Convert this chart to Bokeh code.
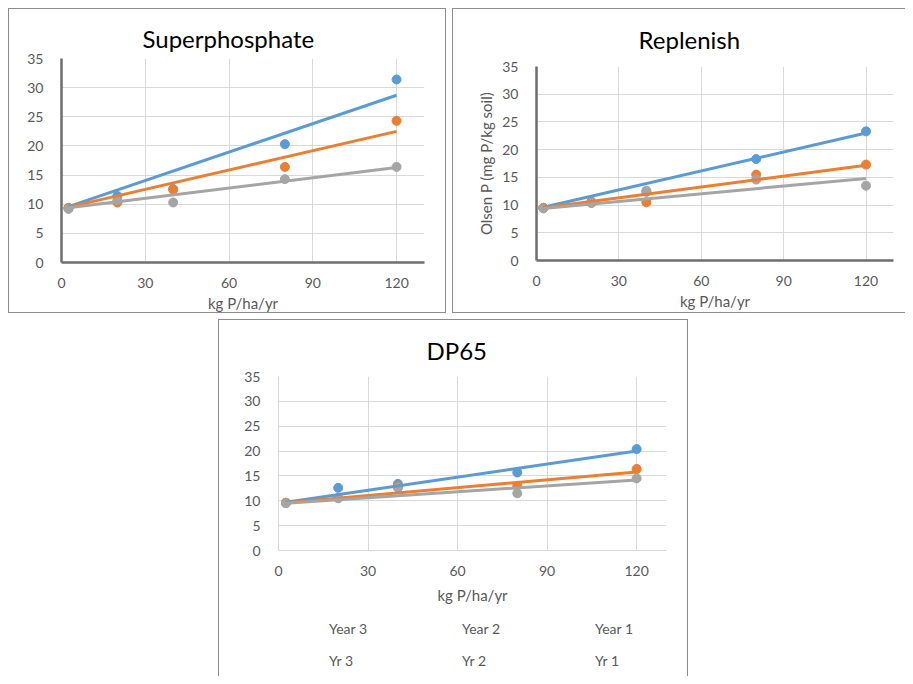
from bokeh.plotting import figure
from bokeh.models import FixedTicker, Legend, LegendItem, Range1d
from bokeh.embed import file_html
from bokeh.resources import INLINE

# ---------------- data ----------------
rate = [2.5, 20, 40, 80, 120]          # kg P/ha/yr
trend_x = [2.5, 120]
series_names = ["Year 3", "Year 2", "Year 1"]
trend_names = ["Yr 3", "Yr 2", "Yr 1"]
x_ticks = [0, 30, 60, 90, 120]
y_ticks = [0, 5, 10, 15, 20, 25, 30, 35]

super_year3 = [9.3, 11.4, 12.6, 20.3, 31.4]
super_year2 = [9.4, 10.3, 12.5, 16.4, 24.3]
super_year1 = [9.2, 10.7, 10.3, 14.3, 16.4]
super_trend3 = [9.6, 28.7]
super_trend2 = [9.5, 22.5]
super_trend1 = [9.4, 16.3]

rep_year3 = [9.5, 10.6, 12.4, 18.3, 23.3]
rep_year2 = [9.5, 10.4, 10.5, 15.5, 17.3]
rep_year1 = [9.4, 10.4, 12.6, 14.6, 13.5]
rep_trend3 = [9.6, 23.0]
rep_trend2 = [9.5, 17.2]
rep_trend1 = [9.4, 14.8]

dp_year3 = [9.6, 12.6, 13.4, 15.7, 20.4]
dp_year2 = [9.6, 10.6, 12.9, 13.0, 16.4]
dp_year1 = [9.5, 10.5, 12.6, 11.5, 14.5]
dp_trend3 = [9.7, 20.0]
dp_trend2 = [9.6, 15.8]
dp_trend1 = [9.5, 14.2]

# ---------------- style ----------------
COLORS = ["#5B9BD5", "#ED7D31", "#A5A5A5"]
FONT = "Lato"
TICK_COLOR = "#595959"
BORDER = "1px solid #8c8c8c"


def make_panel(title, years, trends, size, borders, title_standoff,
               title_offset, axis_color, axis_width, styles, ylabel=None,
               xlabel_standoff=3):
    left, right, top, bottom = borders
    p = figure(width=size[0], height=size[1],
               x_range=Range1d(0, 130), y_range=Range1d(0, 35),
               output_backend="svg", toolbar_location=None,
               min_border_left=left, min_border_right=right,
               min_border_top=top, min_border_bottom=bottom,
               styles=styles)
    p.outline_line_color = None
    p.background_fill_color = "white"
    p.border_fill_color = "white"

    p.title.text = title
    p.title.align = "left"
    p.title.offset = title_offset
    p.title.text_font = FONT
    p.title.text_font_size = "24px"
    p.title.text_font_style = "normal"
    p.title.text_color = "#000000"
    p.title.standoff = title_standoff

    p.xaxis.ticker = FixedTicker(ticks=x_ticks)
    p.yaxis.ticker = FixedTicker(ticks=y_ticks)
    p.xgrid.ticker = FixedTicker(ticks=x_ticks)
    p.ygrid.ticker = FixedTicker(ticks=y_ticks)
    for g in (p.xgrid, p.ygrid):
        g.grid_line_color = "#D9D9D9"
        g.grid_line_width = 1
    for ax in (p.xaxis, p.yaxis):
        ax.axis_line_color = axis_color
        ax.axis_line_width = axis_width
        ax.major_tick_line_color = None
        ax.minor_tick_line_color = None
        ax.major_tick_out = 0
        ax.major_tick_in = 0
        ax.major_label_text_font = FONT
        ax.major_label_text_font_size = "14px"
        ax.major_label_text_color = TICK_COLOR
        ax.axis_label_text_font = FONT
        ax.axis_label_text_font_size = "15px"
        ax.axis_label_text_font_style = "normal"
        ax.axis_label_text_color = TICK_COLOR
    p.xaxis.major_label_standoff = 15
    p.yaxis.major_label_standoff = 18
    p.xaxis.axis_label = "kg P/ha/yr"
    p.xaxis.axis_label_standoff = xlabel_standoff
    if ylabel:
        p.yaxis.axis_label = ylabel
        p.yaxis.axis_label_standoff = 4

    for ys, c in zip(years, COLORS):
        p.scatter(rate, ys, size=9, color=c, line_color=c)
    for ts, c in zip(trends, COLORS):
        p.line(trend_x, ts, line_width=3, color=c)
    return p


def place(left, top, extra=None):
    s = {"position": "absolute", "left": f"{left}px", "top": f"{top}px"}
    if extra:
        s.update(extra)
    return s


p1 = make_panel("Superphosphate",
                [super_year3, super_year2, super_year1],
                [super_trend3, super_trend2, super_trend1],
                (438, 305), (52, 23, 49, 51), 12, 81,
                "#6E6E6E", 2.5, place(8, 8, {"border": BORDER}))

p2 = make_panel("Replenish",
                [rep_year3, rep_year2, rep_year1],
                [rep_trend3, rep_trend2, rep_trend1],
                (453, 305), (83, 13, 57, 54), 25, 102,
                "#6E6E6E", 2.5,
                place(452, 8, {"border-left": BORDER, "border-top": BORDER,
                               "border-bottom": BORDER}),
                ylabel="Olsen P (mg P/kg soil)")

p3 = make_panel("DP65",
                [dp_year3, dp_year2, dp_year1],
                [dp_trend3, dp_trend2, dp_trend1],
                (470, 357), (59, 23, 56, 127), 24, 148,
                "#D9D9D9", 1,
                place(218, 319, {"border-left": BORDER, "border-top": BORDER,
                                 "border-right": BORDER}),
                xlabel_standoff=7)

# ---------------- shared legend (own small canvas under the DP65 axis) ----
pl = figure(width=392, height=56, x_range=Range1d(0, 1), y_range=Range1d(0, 1),
            output_backend="svg", toolbar_location=None,
            x_axis_location=None, y_axis_location=None,
            min_border=0, min_border_left=0, min_border_right=0,
            min_border_top=0, min_border_bottom=0,
            styles=place(289, 618))
pl.outline_line_color = None
pl.xgrid.visible = False
pl.ygrid.visible = False
pl.background_fill_color = "white"
pl.border_fill_color = "white"

dot_rs = [pl.scatter(x=[], y=[], size=9, color=c, line_color=c) for c in COLORS]
line_rs = [pl.line(x=[], y=[], line_width=3, color=c) for c in COLORS]

items = [LegendItem(label=n, renderers=[r]) for n, r in zip(series_names, dot_rs)]
items += [LegendItem(label=n, renderers=[r]) for n, r in zip(trend_names, line_rs)]
legend = Legend(items=items, orientation="horizontal", ncols=3,
                location="top_left",
                glyph_width=36, glyph_height=20, label_standoff=4,
                label_width=81, label_height=20, spacing=12,
                padding=0, margin=0, border_line_color=None,
                background_fill_alpha=0,
                label_text_font=FONT, label_text_font_size="14px",
                label_text_color=TICK_COLOR)
pl.add_layout(legend)

open("out.html", "w").write(file_html([p1, p2, p3, pl], INLINE))
